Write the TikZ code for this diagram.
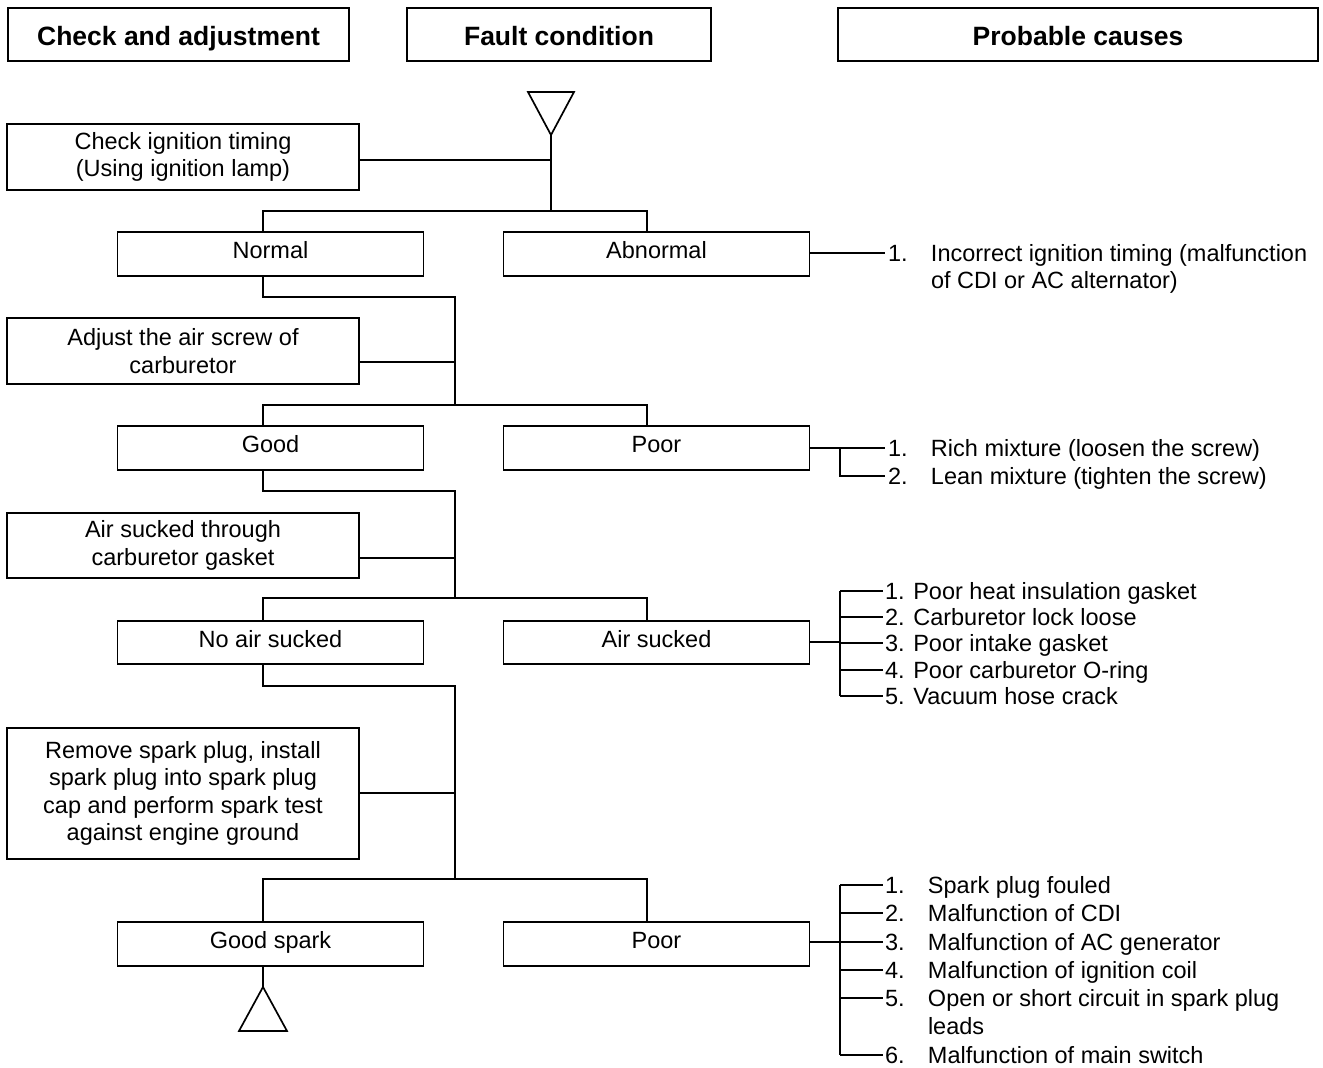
\documentclass[tikz,border=0pt]{standalone}
\usepackage{fontspec}
\setmainfont{Liberation Sans}
\begin{document}
\begin{tikzpicture}[x=1pt,y=-1pt,
  every node/.style={inner sep=0pt,outer sep=0pt},
  box/.style={draw,line width=1.7pt,align=center,font=\fontsize{23.5}{27.5}\selectfont},
  hdr/.style={draw,line width=1.7pt,minimum height=53pt,text height=23pt,text depth=2pt,font=\fontsize{26.5}{30}\selectfont\bfseries},
  stepbox/.style={box,minimum width=352pt,minimum height=66pt},
  resbox/.style={box,minimum width=306pt,minimum height=44pt,text height=17pt,text depth=8pt},
  cause/.style={anchor=base west,font=\fontsize{23.5}{28.3}\selectfont},
  ln/.style={line width=1.7pt},
  tri/.style={draw,line width=1.7pt,line join=miter}]
\useasboundingbox (0,0) rectangle (1323,1068);
% headers
\node[hdr,minimum width=341pt] (h1) at (178.5,34.5) {Check and adjustment};
\node[hdr,minimum width=304pt] (h2) at (559,34.5) {Fault condition};
\node[hdr,minimum width=480pt] (h3) at (1078,34.5) {Probable causes};
% top triangle
\coordinate (tapex) at (551,135);
\draw[tri] (528,92) -- (574,92) -- (tapex) -- cycle;
% step 1
\node[stepbox] (chk) at (183,157) {Check ignition timing\\(Using ignition lamp)};
\coordinate (j1) at (551,211);
\coordinate (j1L) at (263,211);
\coordinate (j1R) at (647,211);
\node[resbox] (normal) at (270.5,254) {Normal};
\node[resbox] (abn) at (656.5,254) {Abnormal};
\draw[ln] (tapex) -- (j1);
\draw[ln] ([yshift=-3pt]chk.east) -- ([yshift=-3pt]chk.east -| tapex);
\draw[ln] (normal.north -| j1L) -- (j1L) -- (j1R) -- (abn.north -| j1R);
% step 2
\coordinate (j2a) at (455,297);
\coordinate (j2) at (455,405);
\node[stepbox] (adj) at (183,351) {Adjust the air screw of\\carburetor};
\node[resbox] (good) at (270.5,448) {Good};
\node[resbox] (poor1) at (656.5,448) {Poor};
\draw[ln] (normal.south -| j1L) |- (j2a) -- (j2);
\draw[ln] ([yshift=-11pt]adj.east) -- ([yshift=-11pt]adj.east -| j2);
\draw[ln] (good.north -| j1L) |- (j2) -| (poor1.north -| j1R);
% step 3
\coordinate (j3a) at (455,491);
\coordinate (j3) at (455,598);
\node[stepbox,minimum height=65pt] (air) at (183,545.5) {Air sucked through\\carburetor gasket};
\node[resbox,minimum height=43pt] (noair) at (270.5,642.5) {No air sucked};
\node[resbox,minimum height=43pt] (airs) at (656.5,642.5) {Air sucked};
\draw[ln] (good.south -| j1L) |- (j3a) -- (j3);
\draw[ln] ([yshift=-12.5pt]air.east) -- ([yshift=-12.5pt]air.east -| j3);
\draw[ln] (noair.north -| j1L) |- (j3) -| (airs.north -| j1R);
% step 4
\coordinate (j4a) at (455,686);
\coordinate (j4) at (455,879);
\node[stepbox,minimum height=131pt] (spark) at (183,793.5) {Remove spark plug, install\\spark plug into spark plug\\cap and perform spark test\\against engine ground};
\node[resbox] (gspark) at (270.5,944) {Good spark};
\node[resbox] (poor2) at (656.5,944) {Poor};
\draw[ln] (noair.south -| j1L) |- (j4a) -- (j4);
\draw[ln] ([yshift=0.5pt]spark.east) -- ([yshift=0.5pt]spark.east -| j4);
\draw[ln] (gspark.north -| j1L) |- (j4) -| (poor2.north -| j1R);
% bottom triangle
\coordinate (bapex) at (263,987);
\draw[ln] (gspark.south -| j1L) -- (bapex);
\draw[tri] (bapex) -- (287,1031) -- (239,1031) -- cycle;
% causes: abnormal
\coordinate (ca) at (885,253);
\draw[ln] (abn.east |- ca) -- (ca);
\node[cause] (c1) at (888,261.4) {\makebox[43pt][l]{1.}Incorrect ignition timing (malfunction};
\node[cause] (c1b) at (931,288.9) {of CDI or AC alternator)};
% causes: poor mixture
\coordinate (b1) at (840,448);
\coordinate (b1a) at (885,448);
\coordinate (b1b) at (885,476);
\draw[ln] (poor1.east |- b1) -- (b1a);
\draw[ln] (b1) |- (b1b);
\node[cause] (m1) at (888,456.4) {\makebox[43pt][l]{1.}Rich mixture (loosen the screw)};
\node[cause] (m2) at (888,484.4) {\makebox[43pt][l]{2.}Lean mixture (tighten the screw)};
% causes: air sucked
\coordinate (b2) at (840,642);
\coordinate (a1) at (883,591);
\coordinate (a2) at (883,617);
\coordinate (a3) at (883,643);
\coordinate (a4) at (883,670);
\coordinate (a5) at (883,696);
\draw[ln] (airs.east |- b2) -- (b2);
\draw[ln] (a1 -| b2) -- (a5 -| b2);
\foreach \c in {a1,a2,a3,a4,a5} \draw[ln] (\c -| b2) -- (\c);
\node[cause] (s1) at (885,599.4) {1. Poor heat insulation gasket};
\node[cause] (s2) at (885,625.65) {2. Carburetor lock loose};
\node[cause] (s3) at (885,651.9) {3. Poor intake gasket};
\node[cause] (s4) at (885,678.15) {4. Poor carburetor O-ring};
\node[cause] (s5) at (885,704.4) {5. Vacuum hose crack};
% causes: poor spark
\coordinate (b3) at (840,942);
\coordinate (p1) at (883,885);
\coordinate (p2) at (883,913);
\coordinate (p3) at (883,942);
\coordinate (p4) at (883,970);
\coordinate (p5) at (883,998);
\coordinate (p6) at (883,1055);
\draw[ln] (poor2.east |- b3) -- (b3);
\draw[ln] (p1 -| b3) -- (p6 -| b3);
\foreach \c in {p1,p2,p3,p4,p5,p6} \draw[ln] (\c -| b3) -- (\c);
\node[cause] (q1) at (885,893.4) {\makebox[43pt][l]{1.}Spark plug fouled};
\node[cause] (q2) at (885,921.7) {\makebox[43pt][l]{2.}Malfunction of CDI};
\node[cause] (q3) at (885,950) {\makebox[43pt][l]{3.}Malfunction of AC generator};
\node[cause] (q4) at (885,978.3) {\makebox[43pt][l]{4.}Malfunction of ignition coil};
\node[cause] (q5) at (885,1006.6) {\makebox[43pt][l]{5.}Open or short circuit in spark plug};
\node[cause] (q5b) at (928,1034.9) {leads};
\node[cause] (q6) at (885,1063.2) {\makebox[43pt][l]{6.}Malfunction of main switch};
\end{tikzpicture}
\end{document}
